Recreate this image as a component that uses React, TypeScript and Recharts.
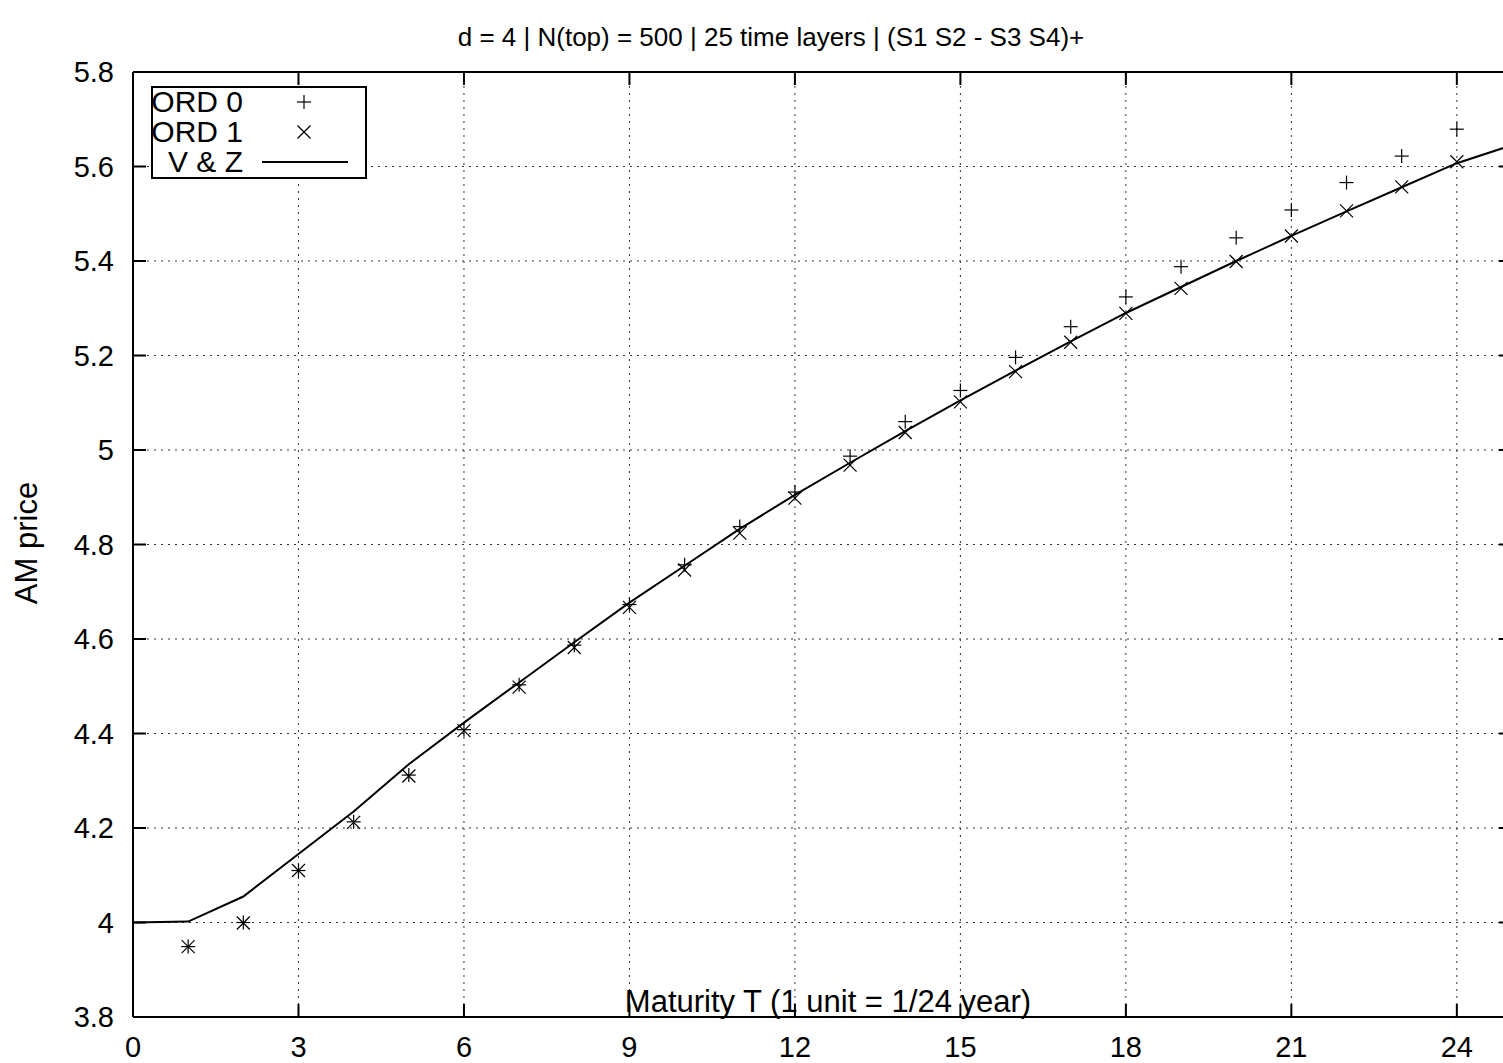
import React from "react";
import { ComposedChart, Line, Scatter, XAxis, YAxis, CartesianGrid, Legend } from "recharts";

// maturity steps where the two ORD estimates are shown
const maturity = [1, 2, 3, 4, 5, 6, 7, 8, 9, 10, 11, 12, 13, 14, 15, 16, 17, 18, 19, 20, 21, 22, 23, 24];
const ord0Price = [
  3.949, 4.0, 4.11, 4.213, 4.312, 4.408, 4.503, 4.587, 4.673, 4.757, 4.838, 4.911,
  4.987, 5.06, 5.126, 5.196, 5.261, 5.324, 5.388, 5.449, 5.508, 5.566, 5.622, 5.679,
];
const ord1Price = [
  3.949, 3.999, 4.11, 4.212, 4.31, 4.406, 4.498, 4.582, 4.667, 4.746, 4.824, 4.898,
  4.968, 5.037, 5.102, 5.166, 5.228, 5.289, 5.342, 5.399, 5.453, 5.506, 5.557, 5.61,
];

// V & Z reference curve
const vzMaturity = [0, 1, 2, 3, 4, 5, 6, 7, 8, 9, 10, 11, 12, 13, 14, 15, 16, 17, 18, 19, 20, 21, 22, 23, 24, 25];
const vzPrice = [
  4.0, 4.002, 4.055, 4.145, 4.235, 4.335, 4.423, 4.508, 4.593, 4.677, 4.755, 4.833, 4.905,
  4.973, 5.04, 5.105, 5.168, 5.23, 5.29, 5.345, 5.4, 5.453, 5.505, 5.556, 5.607, 5.645,
];

const xTicks = [0, 3, 6, 9, 12, 15, 18, 21, 24];
const yTicks = [3.8, 4, 4.2, 4.4, 4.6, 4.8, 5, 5.2, 5.4, 5.6, 5.8];

const ord0Data = maturity.map((t, i) => ({ t, price: ord0Price[i] }));
const ord1Data = maturity.map((t, i) => ({ t, price: ord1Price[i] }));
const vzData = vzMaturity.map((t, i) => ({ t, price: vzPrice[i] }));

const W = 1540;
const H = 1063;
const FONT = '"Liberation Sans", Arial, Helvetica, sans-serif';
const TICK_LEN = 13;
// plot box in page pixels
const PLOT = { left: 133, right: 1512, top: 72, bottom: 1017 };
const AXIS_W = 40;
const AXIS_H = 20;

const PlusMark = (props: any) => {
  const { cx, cy } = props;
  if (cx == null || cy == null) return null;
  return (
    <g stroke="#000" strokeWidth={1.2}>
      <line x1={cx - 7} y1={cy} x2={cx + 7} y2={cy} />
      <line x1={cx} y1={cy - 7} x2={cx} y2={cy + 7} />
    </g>
  );
};

const CrossMark = (props: any) => {
  const { cx, cy } = props;
  if (cx == null || cy == null) return null;
  return (
    <g stroke="#000" strokeWidth={1.2}>
      <line x1={cx - 6.5} y1={cy - 6.5} x2={cx + 6.5} y2={cy + 6.5} />
      <line x1={cx - 6.5} y1={cy + 6.5} x2={cx + 6.5} y2={cy - 6.5} />
    </g>
  );
};

const BottomTick = ({ x, y, payload }: any) => (
  <g>
    <line x1={x} y1={y} x2={x} y2={y - TICK_LEN} stroke="#000" strokeWidth={2} />
    <text x={x} y={y + 40} textAnchor="middle" fontFamily={FONT} fontSize={29} fill="#000">
      {payload.value}
    </text>
  </g>
);

const TopTick = ({ x, y }: any) => (
  <line x1={x} y1={y} x2={x} y2={y + TICK_LEN} stroke="#000" strokeWidth={2} />
);

const LeftTick = ({ x, y, payload }: any) => (
  <g>
    <line x1={x} y1={y} x2={x + TICK_LEN} y2={y} stroke="#000" strokeWidth={2} />
    <text x={x - 19} y={y + 10} textAnchor="end" fontFamily={FONT} fontSize={29} fill="#000">
      {payload.value}
    </text>
  </g>
);

const RightTick = ({ x, y }: any) => (
  <line x1={x} y1={y} x2={x - TICK_LEN} y2={y} stroke="#000" strokeWidth={2} />
);

const renderLegend = (props: any) => {
  const items = props.payload || [];
  return (
    <svg width={216} height={93} style={{ display: "block" }}>
      <rect x={1} y={1} width={214} height={91} fill="#fff" stroke="#000" strokeWidth={2} />
      {items.map((item: any, i: number) => {
        const rowY = 16 + i * 30;
        return (
          <g key={item.value}>
            <text x={92} y={rowY + 10} textAnchor="end" fontFamily={FONT} fontSize={30} fill="#000">
              {item.value}
            </text>
            {item.value === "ORD 0" && <PlusMark cx={153} cy={rowY} />}
            {item.value === "ORD 1" && <CrossMark cx={153} cy={rowY} />}
            {item.value === "V & Z" && (
              <line x1={111} y1={rowY} x2={197} y2={rowY} stroke="#000" strokeWidth={2} />
            )}
          </g>
        );
      })}
    </svg>
  );
};

export default function App() {
  return (
    <div
      style={{
        position: "absolute",
        left: 0,
        top: 0,
        width: 1503,
        height: 1063,
        overflow: "hidden",
        background: "#fff",
      }}
    >
      <ComposedChart
        width={W}
        height={H}
        margin={{
          top: PLOT.top - AXIS_H,
          right: W - PLOT.right - AXIS_W,
          bottom: H - PLOT.bottom - AXIS_H,
          left: PLOT.left - AXIS_W,
        }}
      >
        <CartesianGrid stroke="#333" strokeDasharray="2 5" strokeWidth={1} />
        <XAxis
          xAxisId={0}
          type="number"
          dataKey="t"
          domain={[0, 25]}
          ticks={xTicks}
          allowDataOverflow
          height={AXIS_H}
          tickSize={0}
          tickMargin={0}
          tickLine={false}
          tick={<BottomTick />}
          interval={0}
          axisLine={{ stroke: "#000", strokeWidth: 2 }}
        />
        <XAxis
          xAxisId="top"
          orientation="top"
          type="number"
          dataKey="t"
          domain={[0, 25]}
          ticks={xTicks}
          allowDataOverflow
          height={AXIS_H}
          tickSize={0}
          tickMargin={0}
          tickLine={false}
          tick={<TopTick />}
          interval={0}
          axisLine={{ stroke: "#000", strokeWidth: 2 }}
        />
        <YAxis
          yAxisId={0}
          type="number"
          domain={[3.8, 5.8]}
          ticks={yTicks}
          allowDataOverflow
          width={AXIS_W}
          tickSize={0}
          tickMargin={0}
          tickLine={false}
          tick={<LeftTick />}
          interval={0}
          axisLine={{ stroke: "#000", strokeWidth: 2 }}
        />
        <YAxis
          yAxisId="right"
          orientation="right"
          type="number"
          domain={[3.8, 5.8]}
          ticks={yTicks}
          allowDataOverflow
          width={AXIS_W}
          tickSize={0}
          tickMargin={0}
          tickLine={false}
          tick={<RightTick />}
          interval={0}
          axisLine={{ stroke: "#000", strokeWidth: 2 }}
        />
        <Line
          data={vzData}
          dataKey="price"
          name="V & Z"
          type="linear"
          stroke="#000"
          strokeWidth={2}
          dot={false}
          activeDot={false}
          isAnimationActive={false}
        />
        <Scatter data={ord0Data} dataKey="price" name="ORD 0" shape={<PlusMark />} isAnimationActive={false} />
        <Scatter data={ord1Data} dataKey="price" name="ORD 1" shape={<CrossMark />} isAnimationActive={false} />
        <Legend
          layout="vertical"
          align="center"
          verticalAlign="middle"
          content={renderLegend}
          wrapperStyle={{ left: 151, top: 86, width: 216, height: 93 }}
        />
        <text x={771} y={46} textAnchor="middle" fontFamily={FONT} fontSize={26} fill="#000">
          d = 4 | N(top) = 500 | 25 time layers | (S1 S2 - S3 S4)+
        </text>
        <text x={828} y={1012} textAnchor="middle" fontFamily={FONT} fontSize={31} fill="#000">
          Maturity T (1 unit = 1/24 year)
        </text>
        <text
          x={37}
          y={543}
          textAnchor="middle"
          fontFamily={FONT}
          fontSize={31}
          fill="#000"
          transform="rotate(-90 37 543)"
        >
          AM price
        </text>
      </ComposedChart>
    </div>
  );
}
